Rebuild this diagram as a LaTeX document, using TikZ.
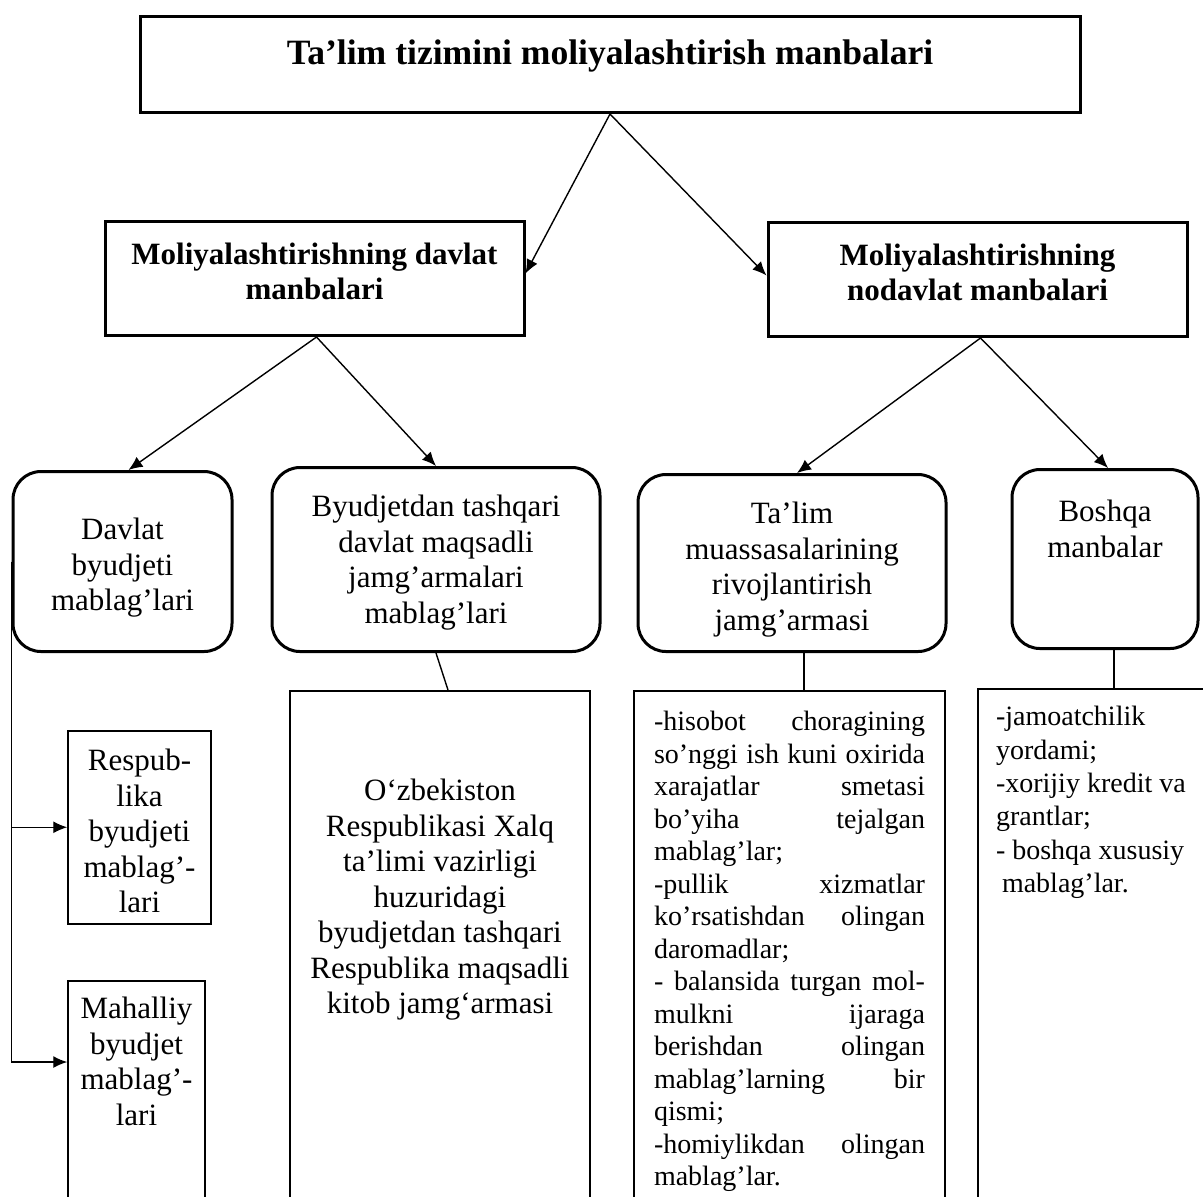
\documentclass[tikz,border=0pt]{standalone}
\usepackage{fontspec}
\setmainfont{Liberation Serif}
\usetikzlibrary{arrows.meta}
\tikzset{
  headbox/.style={draw,line width=1.5pt,inner sep=0pt,anchor=north,font=\bfseries\fontsize{15.5}{17.5}\selectfont},
  roundbox/.style={draw,line width=1.5pt,rounded corners=14pt,inner sep=0pt,anchor=north,font=\fontsize{15.5}{17.75}\selectfont},
  plainbox/.style={draw,line width=0.75pt,inner sep=0pt,anchor=north,font=\fontsize{15.5}{17.75}\selectfont},
  listbox/.style={plainbox,font=\fontsize{14}{16.25}\selectfont},
  link/.style={line width=0.7pt}
}
\newcommand{\jline}[1]{\makebox[\linewidth][s]{#1}}
\begin{document}
\begin{tikzpicture}[x=0.5pt,y=-0.5pt,>={Latex[length=7pt,width=6pt]}]
    \useasboundingbox (0,0) rectangle (1203,1196);
    %% Top
    \node[headbox,minimum width=470pt,text height=24pt,text depth=24pt,font=\bfseries\fontsize{17.8}{21}\selectfont] (title) at (610,15) {Ta’lim tizimini moliyalashtirish manbalari};
    %% Davlat / nodavlat
    \node[headbox,text height=21.5pt,text depth=35.5pt] (davlat) at (314.5,220) {\parbox[t]{209.5pt}{\centering Moliyalashtirishning davlat\\manbalari}};
    \node[headbox,text height=21.5pt,text depth=35.5pt] (nodavlat) at (977.5,221) {\parbox[t]{209.5pt}{\centering Moliyalashtirishning\\nodavlat manbalari}};
    \draw[link,->] (title.south) -- ([yshift=2.5pt]davlat.east);
    \draw[link,->] (title.south) -- ([yshift=2pt]nodavlat.west);
    %% Sources
    \node[roundbox,text height=34pt,text depth=56pt] (dbm) at (122.5,470) {\parbox[t]{109.5pt}{\centering Davlat\\byudjeti\\mablag’lari}};
    \node[roundbox,text height=24.5pt,text depth=67.5pt] (btm) at (436,466) {\parbox[t]{164pt}{\centering Byudjetdan tashqari\\davlat maqsadli\\jamg’armalari\\mablag’lari}};
    \node[roundbox,text height=24.5pt,text depth=64pt] (tmr) at (792,473) {\parbox[t]{154pt}{\centering Ta’lim\\muassasalarining\\rivojlantirish\\jamg’armasi}};
    \node[roundbox,text height=26pt,text depth=63.5pt] (bm) at (1105,468) {\parbox[t]{93pt}{\centering Boshqa\\manbalar}};
    \draw[link,->] ([xshift=1pt]davlat.south) -- ([xshift=3pt]dbm.north);
    \draw[link,->] ([xshift=1pt]davlat.south) -- (btm.north);
    \draw[link,->] ([xshift=1.5pt]nodavlat.south) -- ([xshift=2.5pt]tmr.north);
    \draw[link,->] ([xshift=1.5pt]nodavlat.south) -- ([xshift=1.5pt]bm.north);
    %% Details
    \node[plainbox,text height=20pt,text depth=76.5pt] (rbm) at (139.5,730) {\parbox[t]{71.5pt}{\centering Respub-\\lika\\byudjeti\\mablag’-\\lari}};
    \node[plainbox,text height=19pt,text depth=116pt] (mbm) at (136.5,980) {\parbox[t]{68.5pt}{\centering Mahalliy\\byudjet\\mablag’-\\lari}};
    \node[plainbox,text height=55pt,text depth=225pt] (xkj) at (440,690) {\parbox[t]{150pt}{\centering O‘zbekiston\\Respublikasi Xalq\\ta’limi vazirligi\\huzuridagi\\byudjetdan tashqari\\Respublika maqsadli\\kitob jamg‘armasi}};
    \node[listbox,minimum width=155.5pt,text height=20pt,text depth=260pt] (tml) at (789.5,690) {\parbox[t]{135.5pt}{%
      \jline{-hisobot choragining}\\
      \jline{so’nggi ish kuni oxirida}\\
      \jline{xarajatlar smetasi}\\
      \jline{bo’yiha tejalgan}\\
      mablag’lar;\\
      \jline{-pullik xizmatlar}\\
      \jline{ko’rsatishdan olingan}\\
      daromadlar;\\
      \jline{- balansida turgan mol-}\\
      \jline{mulkni ijaraga}\\
      \jline{berishdan olingan}\\
      \jline{mablag’larning bir}\\
      qismi;\\
      \jline{-homiylikdan olingan}\\
      mablag’lar.}};
    \node[listbox,minimum width=141pt,text height=18.5pt,text depth=262pt,font=\fontsize{14}{16.7}\selectfont] (bml) at (1119,688) {\parbox[t]{123pt}{\raggedright
      -jamoatchilik\\
      yordami;\\
      -xorijiy kredit va\\
      grantlar;\\
      - boshqa xususiy\\
      \hspace*{3pt}mablag’lar.}};
    \draw[link] (btm.south) -- ([xshift=4pt]xkj.north);
    \draw[link] ([xshift=6pt]tmr.south) -- ([xshift=7.25pt]tml.north);
    \draw[link] ([xshift=4.5pt]bm.south) -- ([xshift=-2.5pt]bml.north);
    \draw[link,->] (dbm.west) |- (rbm.west);
    \draw[link,->] (dbm.west) |- ([yshift=-41pt]mbm.north west);
\end{tikzpicture}
\end{document}
